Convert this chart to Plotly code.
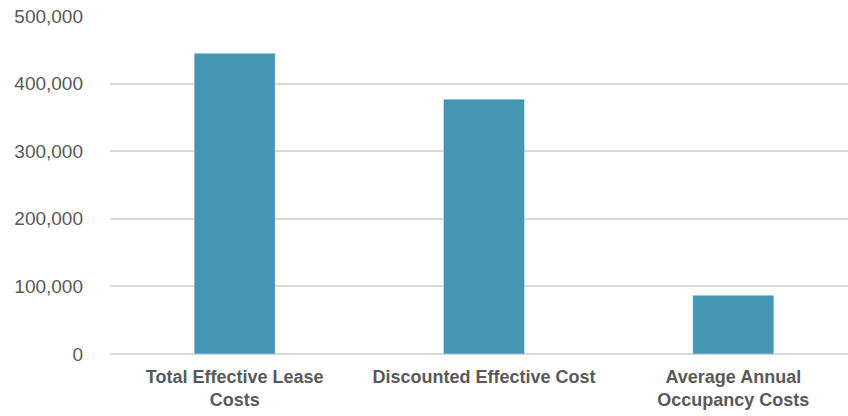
import plotly.graph_objects as go

categories = ["Total Effective Lease<br>Costs", "Discounted Effective Cost", "Average Annual<br>Occupancy Costs"]
values = [445000, 377000, 87000]
tick_vals = [0, 100000, 200000, 300000, 400000, 500000]
tick_text = ["0", "100,000", "200,000", "300,000", "400,000", "500,000"]

fig = go.Figure(go.Bar(x=[0, 1, 2], y=values, marker_color="#4397b5", width=0.325))

fig.update_layout(
    width=848, height=416,
    margin=dict(l=110, r=0, t=16, b=62),
    plot_bgcolor="white", paper_bgcolor="white",
    font=dict(family="Liberation Sans, Arial, sans-serif", color="#595959", size=19),
    showlegend=False,
)
fig.update_xaxes(
    range=[-0.5, 2.46], tickvals=[0, 1, 2], ticktext=categories,
    showgrid=False, zeroline=False, showline=False, ticks="",
    tickfont=dict(size=18, weight="bold"), ticklabelstandoff=10,
)
fig.update_yaxes(
    range=[0, 500000], tickvals=tick_vals, ticktext=tick_text,
    showgrid=True, gridcolor="#d9d9d9", gridwidth=1.5,
    zeroline=True, zerolinecolor="#d9d9d9", zerolinewidth=1.5,
    showline=False, ticks="", ticklabelstandoff=26,
)
fig.write_html(
    "out.html",
    post_script="document.body.style.margin='0';document.documentElement.style.overflow='hidden';",
)
